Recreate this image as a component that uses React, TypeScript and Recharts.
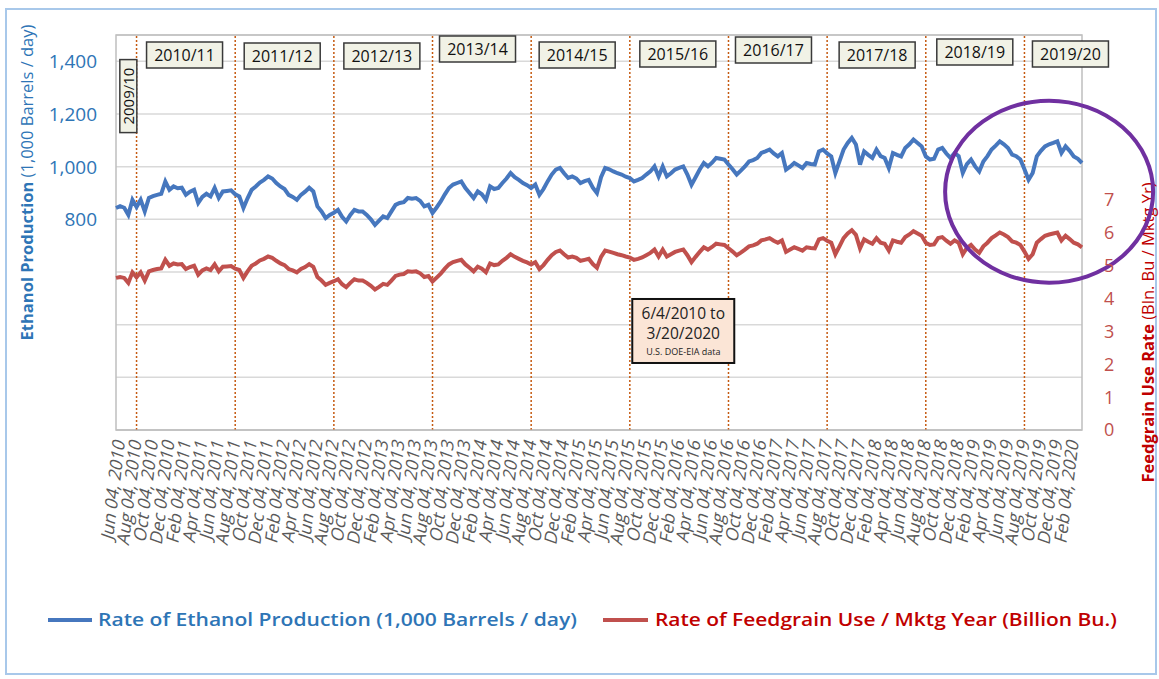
import { CartesianGrid, Legend, Line, LineChart, ReferenceArea, ReferenceDot, ReferenceLine, XAxis, YAxis } from "recharts";

// weekly EIA data thinned to two readings a month (the 4th and the 19th), Jun 2010 .. Mar 2020
const ethanol = [
  843, 850, 844, 817, 874, 847, 874, 830, 881, 888, 893, 897,
  944, 912, 925, 918, 920, 893, 905, 912, 862, 885, 897, 887,
  919, 881, 906, 908, 910, 895, 887, 843, 880, 912, 925, 940,
  950, 963, 955, 938, 925, 915, 893, 885, 874, 893, 905, 920,
  906, 849, 830, 805, 817, 825, 836, 810, 792, 817, 836, 830,
  830, 817, 800, 779, 795, 811, 805, 830, 855, 862, 865, 881,
  878, 881, 870, 849, 855, 824, 845, 868, 895, 919, 932, 938,
  944, 919, 900, 881, 906, 895, 874, 925, 915, 919, 938, 955,
  976, 960, 950, 938, 930, 919, 932, 893, 915, 944, 970, 989,
  995, 975, 957, 963, 955, 938, 945, 950, 920, 900, 960, 995,
  990, 982, 975, 970, 962, 957, 944, 950, 957, 970, 982, 1001,
  963, 1001, 963, 975, 989, 995, 1001, 970, 931, 960, 989, 1014,
  1001, 1015, 1033, 1030, 1027, 1008, 990, 970, 985, 1001, 1020, 1025,
  1033, 1052, 1058, 1065, 1050, 1039, 1052, 989, 1000, 1014, 1005, 995,
  1014, 1010, 1008, 1058, 1065, 1050, 1039, 976, 1020, 1065, 1090, 1109,
  1084, 1008, 1058, 1045, 1033, 1065, 1040, 1033, 995, 1052, 1045, 1039,
  1071, 1085, 1103, 1090, 1077, 1039, 1027, 1030, 1065, 1071, 1050, 1033,
  1052, 1040, 976, 1010, 1027, 1001, 982, 1020, 1040, 1065, 1080, 1096,
  1085, 1071, 1046, 1040, 1027, 990, 950, 976, 1039, 1060, 1077, 1085,
  1090, 1096, 1052, 1077, 1060, 1039, 1030, 1014,
];

const feedgrain = [
  4.62, 4.65, 4.62, 4.47, 4.79, 4.64, 4.79, 4.54, 4.82, 4.86, 4.89, 4.91,
  5.17, 4.99, 5.06, 5.03, 5.04, 4.89, 4.95, 4.99, 4.72, 4.85, 4.91, 4.86,
  5.03, 4.82, 4.96, 4.97, 4.98, 4.9, 4.86, 4.62, 4.82, 4.99, 5.06, 5.15,
  5.2, 5.27, 5.23, 5.14, 5.06, 5.01, 4.89, 4.85, 4.79, 4.89, 4.95, 5.04,
  4.96, 4.65, 4.54, 4.41, 4.47, 4.52, 4.58, 4.43, 4.34, 4.47, 4.58, 4.54,
  4.54, 4.47, 4.38, 4.27, 4.35, 4.44, 4.41, 4.54, 4.68, 4.72, 4.74, 4.82,
  4.81, 4.82, 4.76, 4.65, 4.68, 4.51, 4.63, 4.75, 4.9, 5.03, 5.1, 5.14,
  5.17, 5.03, 4.93, 4.82, 4.96, 4.9, 4.79, 5.06, 5.01, 5.03, 5.14, 5.23,
  5.34, 5.26, 5.2, 5.14, 5.09, 5.03, 5.1, 4.89, 5.01, 5.17, 5.31, 5.41,
  5.45, 5.34, 5.24, 5.27, 5.23, 5.14, 5.17, 5.2, 5.04, 4.93, 5.26, 5.45,
  5.42, 5.38, 5.34, 5.31, 5.27, 5.24, 5.17, 5.2, 5.24, 5.31, 5.38, 5.48,
  5.27, 5.48, 5.27, 5.34, 5.41, 5.45, 5.48, 5.31, 5.1, 5.26, 5.41, 5.55,
  5.48, 5.56, 5.66, 5.64, 5.62, 5.52, 5.42, 5.31, 5.39, 5.48, 5.58, 5.61,
  5.66, 5.76, 5.79, 5.83, 5.75, 5.69, 5.76, 5.41, 5.48, 5.55, 5.5, 5.45,
  5.55, 5.53, 5.52, 5.79, 5.83, 5.75, 5.69, 5.34, 5.58, 5.83, 5.97, 6.07,
  5.93, 5.52, 5.79, 5.72, 5.66, 5.83, 5.69, 5.66, 5.45, 5.76, 5.72, 5.69,
  5.86, 5.94, 6.04, 5.97, 5.9, 5.69, 5.62, 5.64, 5.83, 5.86, 5.75, 5.66,
  5.76, 5.69, 5.34, 5.53, 5.62, 5.48, 5.38, 5.58, 5.69, 5.83, 5.91, 6.0,
  5.94, 5.86, 5.73, 5.69, 5.62, 5.42, 5.2, 5.34, 5.69, 5.8, 5.9, 5.94,
  5.97, 6.0, 5.76, 5.9, 5.8, 5.69, 5.64, 5.55,
];

const monthNames = ["Jan", "Feb", "Mar", "Apr", "May", "Jun", "Jul", "Aug", "Sep", "Oct", "Nov", "Dec"];
const firstMonth = 5; // Jun 2010
const dates = ethanol.map((_, i) => {
  const m = firstMonth + Math.floor(i / 2);
  return `${monthNames[m % 12]} ${i % 2 === 0 ? "04" : "19"}, ${2010 + Math.floor(m / 12)}`;
});
const data = dates.map((date, i) => ({ date, ethanol: ethanol[i], feedgrain: feedgrain[i] }));

// start of each marketing year (Sep 1) and its label
const mktgYearStarts = ["Aug 19, 2010", "Aug 19, 2011", "Aug 19, 2012", "Aug 19, 2013", "Aug 19, 2014",
  "Aug 19, 2015", "Aug 19, 2016", "Aug 19, 2017", "Aug 19, 2018", "Aug 19, 2019"];
const mktgYears = ["2010/11", "2011/12", "2012/13", "2013/14", "2014/15", "2015/16", "2016/17", "2017/18", "2018/19", "2019/20"];
// box offset from its line and box top
const boxDx = [10, 9, 10, 7, 8, 10, 7, 12, 11, 8];
const boxTop = [42, 43, 43, 36, 42, 41, 37, 42, 39, 41];

const leftTicks = [0, 200, 400, 600, 800, 1000, 1200, 1400];
const rightTicks = [0, 1, 2, 3, 4, 5, 6, 7, 8, 9, 10, 11, 12];

const BLUE = "#4677be";
const RED = "#c0504d";
const BLUE_TXT = "#2e75b6";
const RED_TXT = "#c00000";

const YearBox = (props: any) => {
  const { viewBox, i } = props;
  const x = viewBox.x + boxDx[i];
  return (
    <g>
      <rect x={x} y={boxTop[i]} width={76} height={26} fill="#f1f2e6" stroke="#3a3a3a" strokeWidth={1.5} />
      <text x={x + 38} y={boxTop[i] + 13} dy="0.36em" textAnchor="middle" fontSize={16} fill="#111">{mktgYears[i]}</text>
    </g>
  );
};

const XTick = (props: any) => {
  const { x, y, payload } = props;
  return (
    <text transform={`translate(${x + 4},${y + 10}) rotate(-83) skewX(-13)`} textAnchor="end" dy="0.3em"
      fontSize={17.5} fill="#595959">{payload.value}</text>
  );
};

const LeftTick = (props: any) => {
  const { x, y, payload } = props;
  if (payload.value < 800) return <g />;
  return <text x={x} y={y} dy="0.36em" textAnchor="end" fontSize={19} fill={BLUE_TXT}>{payload.value.toLocaleString("en-US")}</text>;
};

const RightTick = (props: any) => {
  const { x, y, payload } = props;
  if (payload.value > 7) return <g />;
  return <text x={x} y={y} dy="0.36em" textAnchor="start" fontSize={18} fill={RED}>{payload.value}</text>;
};

const renderLegend = () => (
  <svg width={1159} height={40}>
    <line x1={48} x2={92} y1={20} y2={20} stroke={BLUE} strokeWidth={4} />
    <text x={98} y={20} dy="0.36em" fontSize={18} fontWeight={600} fill={BLUE_TXT} textLength={479} lengthAdjust="spacingAndGlyphs">
      Rate of Ethanol Production (1,000 Barrels / day)
    </text>
    <line x1={603} x2={648} y1={20} y2={20} stroke={RED} strokeWidth={4} />
    <text x={655} y={20} dy="0.36em" fontSize={18} fontWeight={600} fill={RED_TXT} textLength={462} lengthAdjust="spacingAndGlyphs">
      Rate of Feedgrain Use / Mktg Year (Billion Bu.)
    </text>
  </svg>
);

export default function App() {
  return (
    <div style={{ position: "relative", width: 1159, height: 679, background: "#fff" }}>
      <style>{"body{margin:0}"}</style>
      <div style={{ position: "absolute", left: 5, top: 8, width: 1148, height: 663, border: "2px solid #a8c8ea" }} />
      <LineChart width={1159} height={679} data={data} margin={{ top: 35, right: 0, bottom: 109, left: 0 }}
        style={{ fontFamily: "'Open Sans', sans-serif" }}>
        <CartesianGrid yAxisId="left" vertical={false} stroke="#d9d9d9" strokeWidth={1.5} />
        <ReferenceArea yAxisId="left" y1={0} y2={1500} fill="none" stroke="#bfbfbf" strokeWidth={1.5} />
        <XAxis dataKey="date" interval={3} height={140} tickLine={false} tickSize={0} tickMargin={0}
          axisLine={{ stroke: "#bfbfbf" }} tick={<XTick />} />
        <YAxis yAxisId="left" domain={[0, 1500]} ticks={leftTicks} width={116} axisLine={false} tickLine={false}
          tickSize={6} tickMargin={13} tick={<LeftTick />}
          label={{
            content: (p: any) => {
              const cx = p.viewBox.x + 27;
              const cy = p.viewBox.y + p.viewBox.height / 2 - 50;
              return (
                <text x={cx} y={cy} transform={`rotate(-90 ${cx} ${cy})`} textAnchor="middle" dy="0.36em" fontSize={16.5} fill={BLUE_TXT}>
                  <tspan fontWeight={700}>Ethanol Production</tspan> (1,000 Barrels / day)
                </text>
              );
            },
          }} />
        <YAxis yAxisId="right" orientation="right" domain={[0, 12]} ticks={rightTicks} width={77} axisLine={false} tickLine={false}
          tickSize={6} tickMargin={16} tick={<RightTick />}
          label={{
            content: (p: any) => {
              const cx = p.viewBox.x + 66;
              const cy = p.viewBox.y + p.viewBox.height / 2 + 100;
              return (
                <text x={cx} y={cy} transform={`rotate(-90 ${cx} ${cy})`} textAnchor="middle" dy="0.36em" fontSize={16.5} fill={RED_TXT}>
                  <tspan fontWeight={700}>Feedgrain Use Rate</tspan> (Bln. Bu / Mktg Yr)
                </text>
              );
            },
          }} />
        {mktgYearStarts.map((d, i) => (
          <ReferenceLine key={d} x={d} yAxisId="left" stroke="#c55a11" strokeDasharray="2 2" strokeWidth={1.5}
            label={<YearBox i={i} />} />
        ))}
        <Line yAxisId="left" type="linear" dataKey="ethanol" stroke={BLUE} strokeWidth={4} dot={false} isAnimationActive={false} />
        <Line yAxisId="right" type="linear" dataKey="feedgrain" stroke={RED} strokeWidth={4} dot={false} isAnimationActive={false} />
        <ReferenceDot yAxisId="left" x="Jul 19, 2010" y={1268} shape={(p: any) => (
          <g>
            <rect x={p.cx - 8.5} y={p.cy - 36.5} width={17} height={73} fill="#f1f2e6" stroke="#3a3a3a" strokeWidth={1.5} />
            <text x={p.cx} y={p.cy} transform={`rotate(-90 ${p.cx} ${p.cy})`} textAnchor="middle" dy="0.36em" fontSize={15} fill="#111">2009/10</text>
          </g>
        )} />
        <ReferenceDot yAxisId="left" x="Mar 04, 2016" y={376} shape={(p: any) => (
          <g>
            <rect x={p.cx - 51} y={p.cy - 32} width={102} height={64} fill="#fbe5d6" stroke="#111" strokeWidth={2} />
            <text x={p.cx} y={p.cy - 18} dy="0.36em" textAnchor="middle" fontSize={15.5} fill="#222">6/4/2010 to</text>
            <text x={p.cx} y={p.cy + 2} dy="0.36em" textAnchor="middle" fontSize={15.5} fill="#222">3/20/2020</text>
            <text x={p.cx} y={p.cy + 21} dy="0.36em" textAnchor="middle" fontSize={9} fill="#222">U.S. DOE-EIA data</text>
          </g>
        )} />
        <ReferenceDot yAxisId="left" x="Nov 19, 2019" y={905} shape={(p: any) => (
          <ellipse cx={p.cx} cy={p.cy} rx={104} ry={91} fill="none" stroke="#7030a0" strokeWidth={4} />
        )} />
        <Legend verticalAlign="middle" align="center" content={renderLegend} wrapperStyle={{ top: 600, left: 0, width: 1159 }} />
      </LineChart>
    </div>
  );
}
